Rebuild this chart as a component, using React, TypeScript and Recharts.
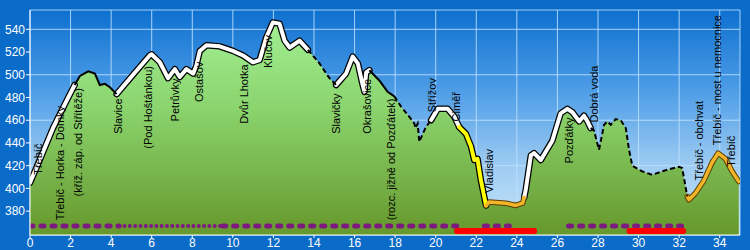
import { ComposedChart, Area, Line, Scatter, XAxis, YAxis, CartesianGrid } from 'recharts';

// elevation profile (km / m n.m.)
const km = [
  0, 0.5, 1.13, 1.8, 2.2, 2.46, 2.87, 3.2, 3.44, 3.69, 3.94, 4.27, 5.08, 5.9, 5.99, 6.4, 6.8, 7.14, 7.38, 7.71,
  8.04, 8.2, 8.37, 8.7, 9.35, 10.0, 10.5, 10.99, 11.32, 11.65, 11.97, 12.3, 12.55, 12.8, 13.29, 13.7, 14.27, 14.76,
  15.09, 15.58, 15.91, 16.16, 16.4, 16.49, 16.57, 16.73, 17.22, 17.63, 17.96, 18.29, 18.7, 18.95, 19.0, 19.11,
  19.19, 19.36, 19.49, 19.6, 19.77, 20.1, 20.59, 20.92, 21.16, 21.49, 21.74, 21.9, 22.06, 22.23, 22.48, 22.64,
  23.46, 23.95, 24.28, 24.36, 24.44, 24.69, 24.85, 25.18, 25.75, 26.16, 26.49, 26.74, 27.07, 27.31, 27.48, 27.64,
  27.8, 28.05, 28.3, 28.46, 28.63, 28.87, 29.12, 29.37, 29.53, 29.69, 30.18, 30.67, 31.33, 31.99, 32.15, 32.4,
  32.48, 32.81, 33.22, 33.63, 33.92, 34.29, 34.61, 34.94,
];
const elevation = [
  405, 426, 453, 477, 491, 499, 503, 501, 491, 492, 489, 483, 500, 517, 518, 511, 497, 505, 498, 505,
  501, 508, 521, 526, 525, 521, 517, 511, 513, 533, 546, 545, 530, 524, 530, 522, 510, 497,
  491, 501, 516, 510, 491, 485, 502, 504, 495, 485, 481, 472, 463, 457, 453, 457,
  441, 448, 453, 456, 460, 470, 470, 463, 454, 448, 437, 425, 426, 407, 385, 388,
  387, 385, 387, 392, 399, 429, 431, 425, 442, 466, 470, 467, 459, 464, 459, 453,
  451, 434, 456, 459, 456, 461, 460, 453, 434, 420, 415, 412, 416, 419, 418, 393,
  390, 396, 407, 423, 431, 426, 415, 406,
];

// line style sections [from km, to km]
const whiteRanges = [[0, 2.2], [4.27, 13.7], [15.09, 16.73], [19.77, 21.16], [24.36, 27.64]];
const blackRanges = [[2.2, 4.27], [16.73, 17.96]];
const dashedRanges = [[13.7, 15.09], [17.96, 19.77], [27.64, 32.4]];
const yellowRanges = [[21.16, 22.48]];
const orangeRanges = [[22.48, 24.36], [32.4, 34.94]];

// surface markers along the bottom
const purpleBig = [[0, 4.4], [9.5, 21.05], [22.4, 23.7], [26.55, 32.2]];
const purpleSmall = [[4.4, 9.5]];
const redRanges = [[21.05, 24.85], [29.55, 32.2]];
const purpleLevel = 367;
const redLevel = 362.5;

// place names
const labelNames = [
  'Třebíč', 'Třebíč - Horka - Domky', '(kříž. záp. od Střítěže)', 'Slavice', '(Pod Hoštánkou)', 'Petrůvky',
  'Ostašov', 'Dvůr Lhotka', 'Klučov', 'Slavičky', 'Okrašovice', '(rozc. jižně od Pozďátek)', 'Střížov', 'Ciměř',
  'Vladislav', 'Pozďátky', 'Dobrá voda', 'Třebíč - obchvat', 'Třebíč - most u nemocnice', 'Třebíč',
];
const labelKm = [
  0.39, 1.48, 2.36, 4.33, 5.81, 7.14, 8.32, 10.53, 11.71, 15.1, 16.63, 17.81, 19.83, 21.01,
  22.64, 26.57, 27.8, 32.97, 33.86, 34.55,
];
const labelEle = [
  412, 372, 393, 448, 435, 459, 476, 457, 506, 448, 448, 372, 467, 459,
  396, 422, 458, 407, 438, 419,
];

const xTicks = [0, 2, 4, 6, 8, 10, 12, 14, 16, 18, 20, 22, 24, 26, 28, 30, 32, 34];
const yTicks = [380, 400, 420, 440, 460, 480, 500, 520, 540];

const profile = km.map((k, i) => ({ km: k, ele: elevation[i] }));
const labels = labelNames.map((name, i) => ({ km: labelKm[i], ele: labelEle[i], name }));
const section = (r: number[]) => profile.filter((p) => p.km >= r[0] && p.km <= r[1]);
const flat = (r: number[], level: number) => [{ km: r[0], ele: level }, { km: r[1], ele: level }];

const font = '"Liberation Sans", Arial, sans-serif';

const LabelShape = (props: any) => {
  const { cx, cy, payload } = props;
  return (
    <text
      x={cx}
      y={cy}
      transform={`rotate(-90 ${cx} ${cy})`}
      textAnchor="start"
      dominantBaseline="central"
      fontSize={11}
      fontFamily={font}
      fill="#000"
    >
      {payload.name}
    </text>
  );
};

export default function App() {
  const tick = { fill: '#fff', fontSize: 12, fontFamily: font };
  return (
    <div style={{ position: 'fixed', left: 0, top: 0, width: 750, height: 250, background: '#0b6bc8' }}>
      <ComposedChart width={750} height={250} data={profile} margin={{ top: 10, right: 10, left: 0, bottom: 0 }}>
        <defs>
          <linearGradient id="plotBg" x1="0" y1="0" x2="0" y2="1">
            <stop offset="0" stopColor="#0e70d0" />
            <stop offset="0.35" stopColor="#4c9ce6" />
            <stop offset="0.7" stopColor="#a0cdf3" />
            <stop offset="1" stopColor="#c8e5fa" />
          </linearGradient>
          <linearGradient id="greenFill" x1="0" y1="0" x2="0" y2="1">
            <stop offset="0" stopColor="#a2ee92" />
            <stop offset="0.4" stopColor="#8bd46e" />
            <stop offset="1" stopColor="#66982c" />
          </linearGradient>
        </defs>
        <CartesianGrid fill="url(#plotBg)" stroke="#bfe2ff" strokeOpacity={0.85} />
        <XAxis
          type="number"
          dataKey="km"
          domain={[0, 35]}
          ticks={xTicks}
          height={15}
          tick={tick}
          tickSize={3}
          tickMargin={0}
          stroke="#fff"
          allowDataOverflow
        />
        <YAxis
          type="number"
          domain={[359, 557]}
          ticks={yTicks}
          width={30}
          tick={tick}
          tickSize={4}
          tickMargin={1}
          stroke="#fff"
          allowDataOverflow
        />
        <Area dataKey="ele" type="linear" fill="url(#greenFill)" fillOpacity={1} stroke="none" baseValue={359} isAnimationActive={false} />

        {[...whiteRanges, ...yellowRanges].map((r, i) => (
          <Line key={'wo' + i} data={section(r)} dataKey="ele" stroke="#000" strokeWidth={6.5} dot={false} strokeLinejoin="round" strokeLinecap="round" isAnimationActive={false} />
        ))}
        {orangeRanges.map((r, i) => (
          <Line key={'oo' + i} data={section(r)} dataKey="ele" stroke="#5a3c00" strokeWidth={5.5} dot={false} strokeLinejoin="round" strokeLinecap="round" isAnimationActive={false} />
        ))}
        {whiteRanges.map((r, i) => (
          <Line key={'w' + i} data={section(r)} dataKey="ele" stroke="#fff" strokeWidth={4} dot={false} strokeLinejoin="round" strokeLinecap="round" isAnimationActive={false} />
        ))}
        {yellowRanges.map((r, i) => (
          <Line key={'y' + i} data={section(r)} dataKey="ele" stroke="#ffff00" strokeWidth={4} dot={false} strokeLinejoin="round" strokeLinecap="round" isAnimationActive={false} />
        ))}
        {orangeRanges.map((r, i) => (
          <Line key={'o' + i} data={section(r)} dataKey="ele" stroke="#f2b52a" strokeWidth={3.5} dot={false} strokeLinejoin="round" strokeLinecap="round" isAnimationActive={false} />
        ))}
        {blackRanges.map((r, i) => (
          <Line key={'b' + i} data={section(r)} dataKey="ele" stroke="#000" strokeWidth={2} dot={false} isAnimationActive={false} />
        ))}
        {dashedRanges.map((r, i) => (
          <Line key={'d' + i} data={section(r)} dataKey="ele" stroke="#000" strokeWidth={2} strokeDasharray="5 3" dot={false} isAnimationActive={false} />
        ))}

        {purpleBig.map((r, i) => (
          <Line key={'pb' + i} data={flat(r, purpleLevel)} dataKey="ele" stroke="#7d1a80" strokeWidth={5} strokeDasharray="3 8" strokeLinecap="round" dot={false} isAnimationActive={false} />
        ))}
        {purpleSmall.map((r, i) => (
          <Line key={'ps' + i} data={flat(r, purpleLevel)} dataKey="ele" stroke="#7d1a80" strokeWidth={4} strokeDasharray="0 5.3" strokeLinecap="round" dot={false} isAnimationActive={false} />
        ))}
        {redRanges.map((r, i) => (
          <Line key={'r' + i} data={flat(r, redLevel)} dataKey="ele" stroke="#ff0000" strokeWidth={6} strokeLinecap="round" dot={false} isAnimationActive={false} />
        ))}

        <Scatter data={labels} dataKey="ele" shape={LabelShape} isAnimationActive={false} />
      </ComposedChart>
    </div>
  );
}
